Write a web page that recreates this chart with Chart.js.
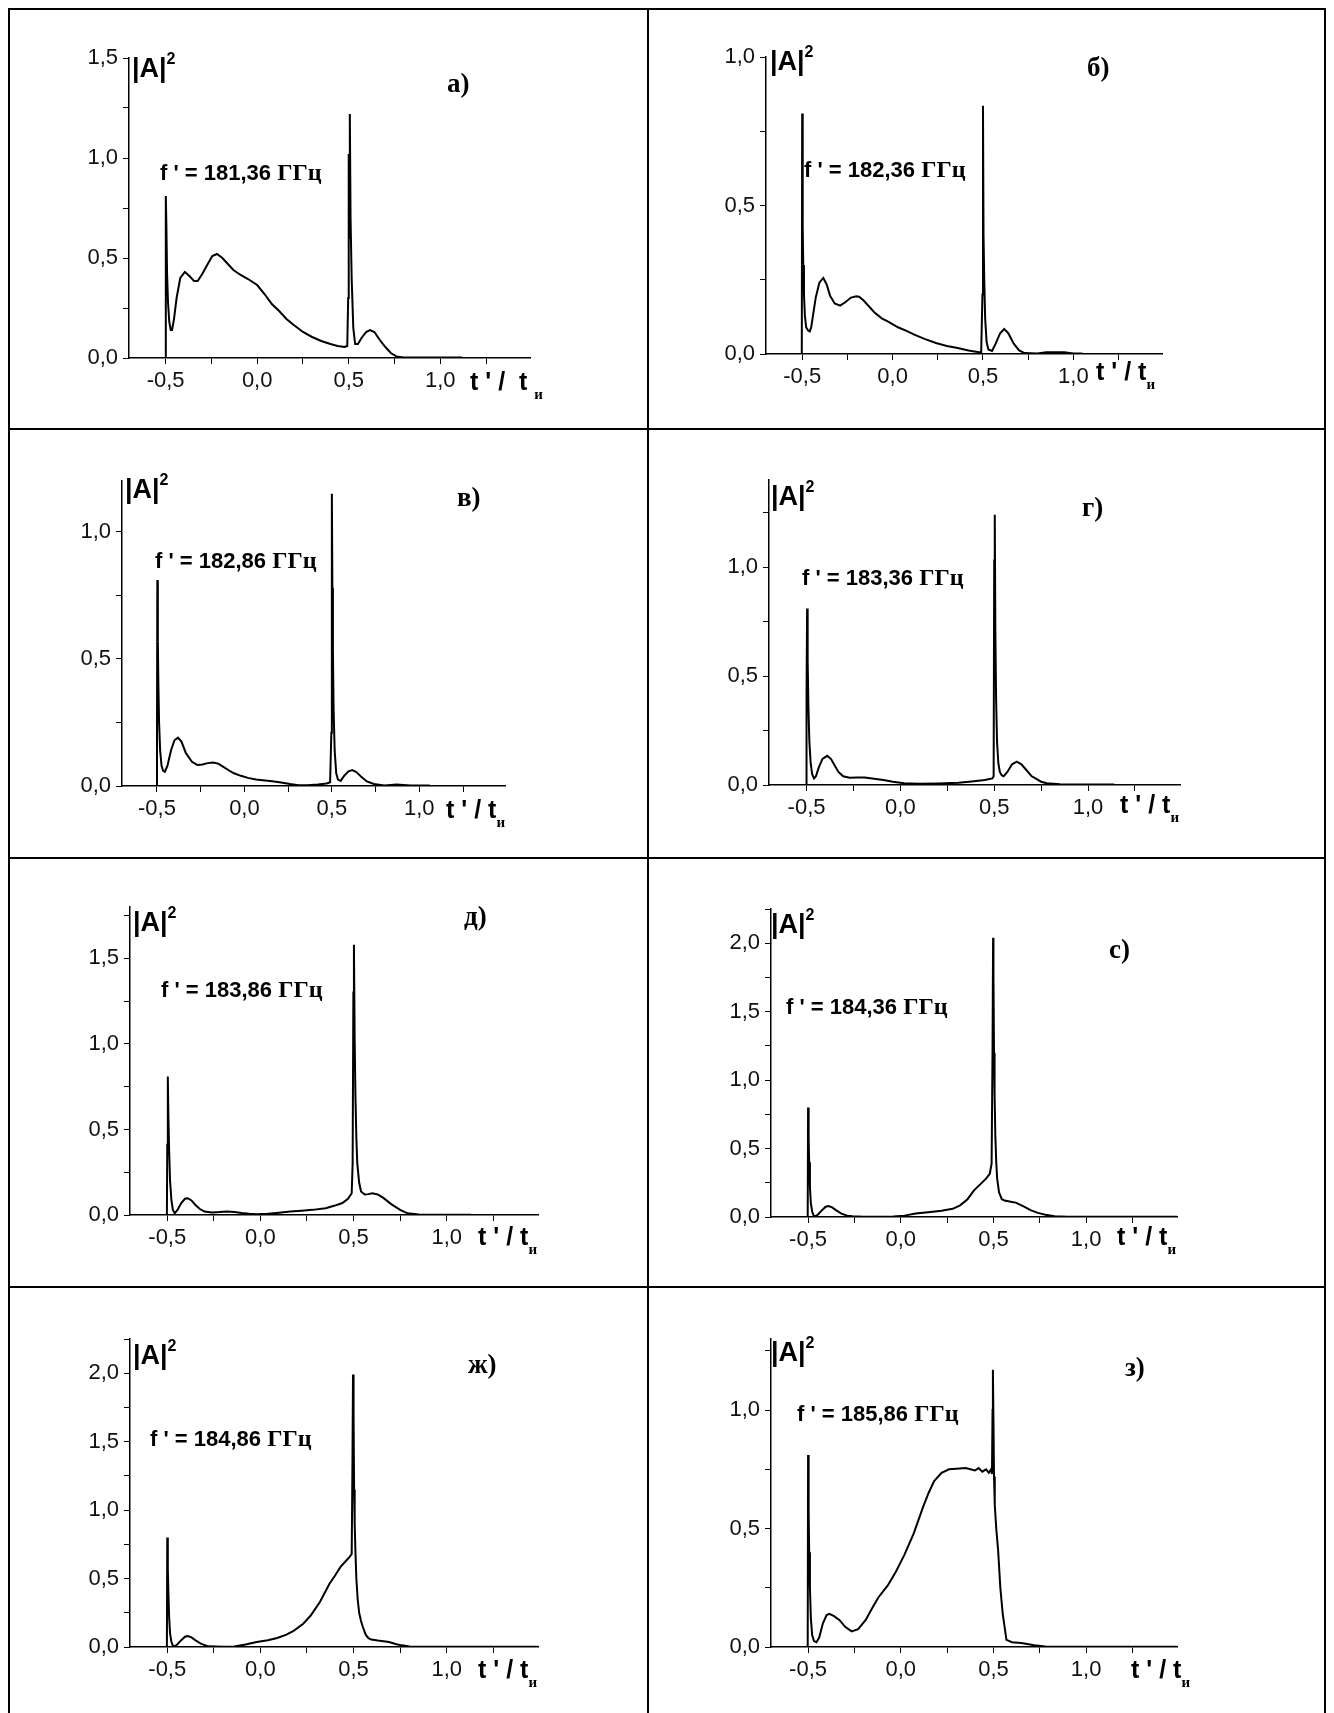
<!DOCTYPE html>
<html>
<head>
<meta charset="utf-8">
<script src="https://cdn.jsdelivr.net/npm/chart.js@4.4.0/dist/chart.umd.min.js"></script>
<style>
  body { margin: 0; background: #fff; width: 1334px; height: 1713px; position: relative; overflow: hidden;
         font-family: "Liberation Sans", Arial, sans-serif; }
  .ln { position: absolute; background: #000; }
  canvas { position: absolute; }
  .t { position: absolute; line-height: 1; white-space: nowrap; color: #000; }
  .amp { font-weight: bold; font-size: 27px; }
  .amp sup { font-size: 16px; position: relative; top: -4px; vertical-align: top; }
  .lab { font-family: "Liberation Serif", "Times New Roman", serif; font-weight: bold; font-size: 27px; }
  .fr { font-weight: bold; font-size: 22px; }
  .fr .g { font-family: "Liberation Serif", "Times New Roman", serif; font-size: 24px; }
  .xt { font-weight: bold; font-size: 25px; }
  .xt .s { font-family: "Liberation Serif", "Times New Roman", serif; font-size: 15px; position: relative; top: 9px; }
</style>
</head>
<body>
<div class="ln" style="left:8px;top:8px;width:1318px;height:2px"></div>
<div class="ln" style="left:8px;top:428px;width:1318px;height:2px"></div>
<div class="ln" style="left:8px;top:857px;width:1318px;height:2px"></div>
<div class="ln" style="left:8px;top:1286px;width:1318px;height:2px"></div>
<div class="ln" style="left:8px;top:8px;width:2px;height:1705px"></div>
<div class="ln" style="left:647px;top:8px;width:2px;height:1705px"></div>
<div class="ln" style="left:1324px;top:8px;width:2px;height:1705px"></div>

<script>
// panel labels and frequencies
const panelLetters = ["а)", "б)", "в)", "г)", "д)", "с)", "ж)", "з)"];
const freqLabels = ["181,36", "182,36", "182,86", "183,36", "183,86", "184,36", "184,86", "185,86"];
const yMaxes = [1.5, 1.0, 1.2, 1.4, 1.8, 2.25, 2.25, 1.3];

// а) f' = 181,36
const xA = [-0.5, -0.499, -0.496, -0.492, -0.487, -0.48, -0.472, -0.465, -0.455, -0.44,
  -0.42, -0.395, -0.37, -0.345, -0.325, -0.3, -0.27, -0.245, -0.22, -0.19,
  -0.16, -0.13, -0.09, -0.05, 0.0, 0.04, 0.08, 0.12, 0.16, 0.2,
  0.25, 0.3, 0.35, 0.4, 0.44, 0.477, 0.492, 0.497, 0.5, 0.503,
  0.506, 0.51, 0.516, 0.525, 0.535, 0.55, 0.57, 0.595, 0.616, 0.64,
  0.67, 0.7, 0.73, 0.76, 0.8, 0.9, 1.0, 1.12];
const yA = [0, 0.81, 0.67, 0.42, 0.28, 0.18, 0.14, 0.14, 0.19, 0.3,
  0.4, 0.43, 0.41, 0.385, 0.385, 0.42, 0.47, 0.51, 0.52, 0.5,
  0.47, 0.44, 0.415, 0.395, 0.365, 0.32, 0.27, 0.235, 0.195, 0.165,
  0.13, 0.105, 0.085, 0.07, 0.06, 0.055, 0.06, 0.3, 1.02, 0.6,
  1.22, 0.7, 0.4, 0.15, 0.07, 0.07, 0.1, 0.13, 0.14, 0.13,
  0.09, 0.055, 0.025, 0.008, 0.003, 0.002, 0.002, 0.002];

// б) f' = 182,36
const xB = [-0.7, -0.502, -0.5, -0.497, -0.494, -0.49, -0.485, -0.478, -0.468, -0.458,
  -0.45, -0.44, -0.425, -0.405, -0.383, -0.365, -0.345, -0.32, -0.29, -0.26,
  -0.23, -0.2, -0.185, -0.16, -0.13, -0.1, -0.06, -0.027, 0.03, 0.08,
  0.12, 0.18, 0.24, 0.3, 0.36, 0.42, 0.47, 0.49, 0.497, 0.5,
  0.503, 0.507, 0.512, 0.52, 0.53, 0.55, 0.57, 0.595, 0.617, 0.64,
  0.67, 0.7, 0.73, 0.8, 0.85, 0.95, 1.0, 1.05];
const yB = [0, 0, 0.81, 0.43, 0.3, 0.2, 0.13, 0.09, 0.08, 0.076,
  0.09, 0.13, 0.19, 0.24, 0.256, 0.235, 0.195, 0.17, 0.163, 0.175,
  0.19, 0.194, 0.193, 0.18, 0.16, 0.14, 0.12, 0.11, 0.09, 0.077,
  0.065, 0.05, 0.037, 0.027, 0.02, 0.012, 0.007, 0.005, 0.2, 0.836,
  0.4, 0.25, 0.12, 0.04, 0.015, 0.01, 0.035, 0.07, 0.084, 0.07,
  0.035, 0.012, 0.003, 0.002, 0.006, 0.006, 0.002, 0.002];

// в) f' = 182,86
const xC = [-0.502, -0.5, -0.498, -0.495, -0.492, -0.488, -0.482, -0.474, -0.465, -0.455,
  -0.44, -0.42, -0.4, -0.38, -0.36, -0.335, -0.3, -0.27, -0.24, -0.21,
  -0.18, -0.15, -0.12, -0.09, -0.06, -0.02, 0.02, 0.066, 0.12, 0.17,
  0.21, 0.26, 0.31, 0.36, 0.42, 0.47, 0.49, 0.497, 0.5, 0.503,
  0.506, 0.51, 0.516, 0.525, 0.535, 0.55, 0.57, 0.595, 0.617, 0.64,
  0.67, 0.7, 0.74, 0.8, 0.87, 0.95, 1.06];
const yC = [0, 0.14, 0.81, 0.57, 0.4, 0.25, 0.14, 0.08, 0.06, 0.056,
  0.08, 0.14, 0.18, 0.19, 0.175, 0.13, 0.095, 0.083, 0.085, 0.09,
  0.092, 0.088, 0.075, 0.062, 0.05, 0.04, 0.032, 0.026, 0.022, 0.018,
  0.014, 0.008, 0.003, 0.003, 0.006, 0.01, 0.015, 0.21, 1.15, 0.78,
  0.54, 0.3, 0.14, 0.05, 0.025, 0.02, 0.04, 0.058, 0.063, 0.055,
  0.035, 0.018, 0.008, 0.002, 0.006, 0.002, 0.002];

// г) f' = 183,36
const xD = [-0.502, -0.5, -0.497, -0.494, -0.49, -0.485, -0.478, -0.47, -0.46, -0.45,
  -0.435, -0.415, -0.39, -0.37, -0.35, -0.33, -0.305, -0.27, -0.23, -0.19,
  -0.14, -0.09, -0.04, 0.02, 0.1, 0.2, 0.31, 0.38, 0.45, 0.49,
  0.497, 0.5, 0.503, 0.506, 0.51, 0.515, 0.522, 0.53, 0.54, 0.55,
  0.57, 0.595, 0.62, 0.645, 0.67, 0.7, 0.72, 0.75, 0.78, 0.85,
  1.0, 1.14];
const yD = [0, 0.4, 0.81, 0.57, 0.36, 0.2, 0.1, 0.05, 0.03, 0.04,
  0.08, 0.12, 0.134, 0.12, 0.09, 0.06, 0.04, 0.033, 0.034, 0.034,
  0.029, 0.023, 0.015, 0.008, 0.006, 0.007, 0.01, 0.016, 0.023, 0.03,
  0.04, 1.03, 1.24, 0.72, 0.4, 0.2, 0.1, 0.06, 0.045, 0.04,
  0.06, 0.095, 0.107, 0.095, 0.07, 0.04, 0.03, 0.015, 0.008, 0.003,
  0.002, 0.002];

// д) f' = 183,86
const xE = [-0.502, -0.5, -0.497, -0.494, -0.49, -0.485, -0.478, -0.47, -0.46, -0.445,
  -0.425, -0.405, -0.39, -0.37, -0.35, -0.325, -0.3, -0.26, -0.22, -0.18,
  -0.14, -0.1, -0.06, -0.02, 0.04, 0.1, 0.16, 0.22, 0.28, 0.35,
  0.4, 0.44, 0.47, 0.49, 0.495, 0.499, 0.502, 0.506, 0.51, 0.515,
  0.52, 0.53, 0.54, 0.56, 0.58, 0.6, 0.63, 0.66, 0.7, 0.75,
  0.79, 0.85, 1.0, 1.13];
const yE = [0, 0.41, 0.81, 0.58, 0.38, 0.2, 0.09, 0.03, 0.01, 0.03,
  0.07, 0.095, 0.098, 0.085, 0.06, 0.035, 0.02, 0.015, 0.017, 0.02,
  0.018, 0.012, 0.007, 0.004, 0.007, 0.013, 0.02, 0.025, 0.03, 0.04,
  0.055, 0.07, 0.095, 0.127, 0.3, 1.3, 1.58, 1.02, 0.7, 0.45,
  0.3, 0.19, 0.137, 0.12, 0.122, 0.127, 0.12, 0.1, 0.065, 0.03,
  0.01, 0.003, 0.002, 0.002];

// с) f' = 184,36
const xF = [-0.7, -0.502, -0.5, -0.497, -0.494, -0.49, -0.485, -0.478, -0.47, -0.46,
  -0.445, -0.425, -0.405, -0.39, -0.37, -0.35, -0.32, -0.29, -0.26, -0.2,
  -0.1, -0.04, 0.02, 0.08, 0.16, 0.22, 0.28, 0.32, 0.36, 0.395,
  0.43, 0.46, 0.48, 0.49, 0.495, 0.498, 0.5, 0.503, 0.506, 0.51,
  0.515, 0.52, 0.53, 0.545, 0.56, 0.58, 0.6, 0.62, 0.66, 0.7,
  0.74, 0.78, 0.83, 0.9, 1.2, 1.49];
const yF = [0, 0, 0.8, 0.57, 0.4, 0.22, 0.1, 0.04, 0.01, 0.005,
  0.02, 0.05, 0.075, 0.08, 0.07, 0.05, 0.025, 0.01, 0.005, 0.002,
  0.002, 0.003, 0.01, 0.025, 0.036, 0.045, 0.06, 0.085, 0.13, 0.195,
  0.24, 0.28, 0.316, 0.39, 1.22, 2.04, 1.75, 1.2, 0.9, 0.6,
  0.4, 0.28, 0.18, 0.13, 0.12, 0.115, 0.11, 0.105, 0.08, 0.05,
  0.03, 0.017, 0.005, 0.002, 0.001, 0.001];

// ж) f' = 184,86
const xG = [-0.7, -0.502, -0.5, -0.497, -0.494, -0.49, -0.485, -0.478, -0.47, -0.46,
  -0.445, -0.425, -0.405, -0.39, -0.37, -0.35, -0.32, -0.28, -0.2, -0.14,
  -0.08, -0.02, 0.04, 0.09, 0.14, 0.18, 0.23, 0.27, 0.32, 0.37,
  0.4, 0.43, 0.46, 0.48, 0.49, 0.494, 0.497, 0.5, 0.503, 0.506,
  0.51, 0.515, 0.522, 0.53, 0.54, 0.55, 0.565, 0.58, 0.595, 0.63,
  0.69, 0.73, 0.76, 0.8, 1.0, 1.49];
const yG = [0, 0, 0.8, 0.57, 0.4, 0.22, 0.1, 0.04, 0.01, 0.005,
  0.02, 0.05, 0.075, 0.08, 0.07, 0.05, 0.025, 0.005, 0.002, 0.003,
  0.018, 0.037, 0.05, 0.066, 0.09, 0.12, 0.17, 0.23, 0.33, 0.46,
  0.52, 0.585, 0.63, 0.66, 0.68, 1.33, 1.99, 1.7, 1.15, 0.9,
  0.7, 0.5, 0.35, 0.25, 0.19, 0.146, 0.09, 0.065, 0.054, 0.047,
  0.037, 0.02, 0.012, 0.003, 0.001, 0.001];

// з) f' = 185,86
const xH = [-0.7, -0.502, -0.5, -0.497, -0.494, -0.49, -0.485, -0.478, -0.468, -0.455,
  -0.44, -0.42, -0.4, -0.385, -0.36, -0.33, -0.3, -0.265, -0.23, -0.19,
  -0.15, -0.12, -0.07, -0.025, 0.02, 0.07, 0.12, 0.15, 0.18, 0.22,
  0.26, 0.3, 0.35, 0.4, 0.42, 0.44, 0.46, 0.475, 0.487, 0.492,
  0.495, 0.497, 0.5, 0.503, 0.507, 0.515, 0.525, 0.537, 0.55, 0.57,
  0.6, 0.65, 0.72, 0.78, 1.0, 1.49];
const yH = [0, 0, 0.81, 0.57, 0.4, 0.25, 0.12, 0.05, 0.025, 0.02,
  0.04, 0.1, 0.135, 0.14, 0.13, 0.113, 0.085, 0.066, 0.075, 0.113,
  0.17, 0.21, 0.26, 0.32, 0.39, 0.48, 0.59, 0.65, 0.7, 0.735,
  0.75, 0.752, 0.755, 0.745, 0.755, 0.74, 0.75, 0.735, 0.75, 0.73,
  1.0, 1.17, 0.95, 0.72, 0.6, 0.5, 0.41, 0.25, 0.14, 0.03,
  0.02, 0.017, 0.007, 0.002, 0.001, 0.001];

const seriesX = [xA, xB, xC, xD, xE, xF, xG, xH];
const seriesY = [yA, yB, yC, yD, yE, yF, yG, yH];

// plot boxes [left, right, top, bottom] and text spots, in page px
const boxes = [
  [129, 530, 58, 358], [766, 1162, 57, 354],
  [122, 505, 481, 786], [769, 1180, 480, 785],
  [130, 538, 907, 1215], [771, 1177, 909, 1217],
  [130, 538, 1339, 1647], [771, 1177, 1339, 1647]
];
const spots = [
  { amp: [132, 55], let: [447, 70], fr: [160, 160], xt: [470, 369], wide: true },
  { amp: [770, 48], let: [1087, 54], fr: [804, 157], xt: [1096, 359] },
  { amp: [125, 476], let: [457, 484], fr: [155, 548], xt: [446, 797] },
  { amp: [771, 483], let: [1082, 494], fr: [802, 565], xt: [1120, 792] },
  { amp: [133, 909], let: [464, 903], fr: [161, 977], xt: [478, 1224] },
  { amp: [771, 911], let: [1109, 936], fr: [786, 994], xt: [1117, 1224] },
  { amp: [133, 1342], let: [468, 1351], fr: [150, 1426], xt: [478, 1657] },
  { amp: [771, 1339], let: [1125, 1354], fr: [797, 1401], xt: [1131, 1657] }
];

const X_MIN = -0.7, X_MAX = 1.49;
const YAX_W = 70, XAX_H = 45, PAD_T = 20, PAD_R = 20;

function fmt(v) {
  return v.toFixed(1).replace(".", ",");
}
function isHalf(v) {
  return Math.abs(v * 2 - Math.round(v * 2)) < 1e-6;
}

function addText(cls, html, pos) {
  const d = document.createElement("div");
  d.className = "t " + cls;
  d.innerHTML = html;
  d.style.left = pos[0] + "px";
  d.style.top = pos[1] + "px";
  document.body.appendChild(d);
}

const tickFont = { family: "'Liberation Sans', Arial, sans-serif", size: 22 };

for (let i = 0; i < 8; i++) {
  const [L, R, T, B] = boxes[i];
  const cv = document.createElement("canvas");
  const w = (R - L) + YAX_W + PAD_R;
  const h = (B - T) + PAD_T + XAX_H;
  cv.width = w;
  cv.height = h;
  cv.style.left = (L - YAX_W) + "px";
  cv.style.top = (T - PAD_T) + "px";
  cv.style.width = w + "px";
  cv.style.height = h + "px";
  document.body.appendChild(cv);

  const pts = seriesX[i].map((x, k) => ({ x: x, y: seriesY[i][k] }));

  new Chart(cv, {
    type: "line",
    data: {
      datasets: [{
        data: pts,
        borderColor: "#000",
        borderWidth: 2,
        pointRadius: 0,
        tension: 0,
        fill: false
      }]
    },
    options: {
      responsive: false,
      animation: false,
      devicePixelRatio: 1,
      layout: { padding: { top: PAD_T, right: PAD_R, left: 0, bottom: 0 } },
      plugins: { legend: { display: false }, tooltip: { enabled: false } },
      scales: {
        x: {
          type: "linear",
          min: X_MIN,
          max: X_MAX,
          afterFit: (s) => { s.height = XAX_H; },
          border: { display: true, color: "#000", width: 1.5 },
          grid: { drawOnChartArea: false, drawTicks: true, tickLength: 6, color: "#000" },
          ticks: {
            stepSize: 0.25,
            includeBounds: false,
            autoSkip: false,
            maxRotation: 0,
            padding: 4,
            color: "#111",
            font: tickFont,
            callback: (v) => (isHalf(v) && v <= 1.0001 ? fmt(v) : "")
          }
        },
        y: {
          type: "linear",
          min: 0,
          max: yMaxes[i],
          afterFit: (s) => { s.width = YAX_W; },
          border: { display: true, color: "#000", width: 1.5 },
          grid: { drawOnChartArea: false, drawTicks: true, tickLength: 6, color: "#000" },
          ticks: {
            stepSize: 0.25,
            includeBounds: false,
            autoSkip: false,
            padding: 5,
            color: "#111",
            font: tickFont,
            callback: (v) => (isHalf(v) ? fmt(v) : "")
          }
        }
      }
    }
  });

  const sp = spots[i];
  addText("amp", "|A|<sup>2</sup>", sp.amp);
  addText("lab", panelLetters[i], sp.let);
  addText("fr", "f ' = " + freqLabels[i] + " <span class=\"g\">ГГц</span>", sp.fr);
  const xtHtml = sp.wide
    ? "t ' /&nbsp;&nbsp;t&nbsp;<span class=\"s\">и</span>"
    : "t ' / t<span class=\"s\">и</span>";
  addText("xt", xtHtml, sp.xt);
}
</script>
</body>
</html>
